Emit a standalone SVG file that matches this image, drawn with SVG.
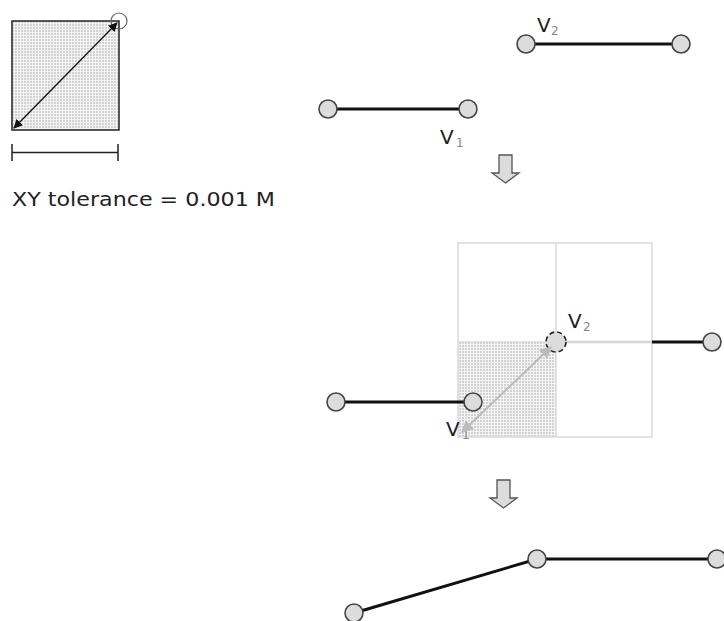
<svg xmlns="http://www.w3.org/2000/svg" width="724" height="621" viewBox="0 0 724 621">
<style>
.vtx{fill:#dcdcdc;stroke:#444;stroke-width:1.6}
.seg{stroke:#111;stroke-width:3;fill:none}
.grid{fill:none;stroke:#dadada;stroke-width:1.5}
.lbl{font-family:"DejaVu Sans",sans-serif;font-size:20px;fill:#222}
.sub{font-family:"DejaVu Sans",sans-serif;font-size:12px;fill:#888}
.darr{fill:#dcdcdc;stroke:#555;stroke-width:1.3}
</style>
<defs>
<pattern id="dots" width="3" height="3" patternUnits="userSpaceOnUse">
<rect width="3" height="3" fill="#f4f4f4"/>
<rect width="2" height="2" fill="#d2d2d2"/>
</pattern>
<marker id="ah" viewBox="0 0 10 10" refX="9" refY="5" markerWidth="7" markerHeight="7" orient="auto-start-reverse" markerUnits="strokeWidth">
<path d="M0,0 L10,5 L0,10 z" fill="#111"/>
</marker>
<marker id="ahg" viewBox="0 0 10 10" refX="9" refY="5" markerWidth="6" markerHeight="6" orient="auto-start-reverse" markerUnits="strokeWidth">
<path d="M0,0 L10,5 L0,10 z" fill="#bbb"/>
</marker>
<path id="downArrow" d="M0,0 h13 v18 h7 l-13.5,10 l-13.5,-10 h7 z" class="darr"/>
</defs>

<g id="tolerance">
<rect x="12" y="21" width="107" height="109" fill="url(#dots)" stroke="#222" stroke-width="1.5"/>
<circle cx="119" cy="21" r="8" fill="none" stroke="#666" stroke-width="1.2"/>
<line x1="14" y1="128" x2="117" y2="23" stroke="#111" stroke-width="1.3" marker-start="url(#ah)" marker-end="url(#ah)"/>
<path d="M12,144 v17 M12,152.5 H118 M118,144 v17" stroke="#222" stroke-width="1.5" fill="none"/>
<text x="12" y="206" class="lbl" font-size="19" textLength="263" lengthAdjust="spacingAndGlyphs">XY tolerance = 0.001 M</text>
</g>

<g id="step1">
<line x1="526" y1="44" x2="681" y2="44" class="seg"/>
<circle cx="526" cy="44" r="9" class="vtx"/>
<circle cx="681" cy="44" r="9" class="vtx"/>
<text x="537" y="32" class="lbl">V</text><text x="551" y="35" class="sub">2</text>
<line x1="328" y1="109" x2="468" y2="109" class="seg"/>
<circle cx="328" cy="109" r="9" class="vtx"/>
<circle cx="468" cy="109" r="9" class="vtx"/>
<text x="440" y="144" class="lbl">V</text><text x="456" y="147" class="sub">1</text>
</g>

<g id="arrow1"><use href="#downArrow" x="499" y="155"/></g>

<g id="step2">
<rect x="458" y="342" width="98" height="95" fill="url(#dots)"/>
<rect x="458" y="243" width="194" height="194" class="grid"/>
<line x1="556" y1="243" x2="556" y2="437" class="grid"/>
<line x1="458" y1="342" x2="652" y2="342" class="grid"/>
<line x1="556" y1="342" x2="652" y2="342" stroke="#d4d4d4" stroke-width="2.5"/>
<line x1="652" y1="342" x2="712" y2="342" class="seg"/>
<circle cx="712" cy="342" r="9" class="vtx"/>
<line x1="336" y1="402" x2="473" y2="402" class="seg"/>
<circle cx="336" cy="402" r="9" class="vtx"/>
<circle cx="473" cy="402" r="9" class="vtx"/>
<circle cx="556" cy="342" r="10" fill="#dcdcdc" stroke="#222" stroke-width="1.6" stroke-dasharray="5,3"/>
<text x="568" y="328" class="lbl">V</text><text x="583" y="331" class="sub">2</text>
<text x="446" y="436" class="lbl">V</text><text x="462" y="439" class="sub">1</text>
<line x1="462" y1="432" x2="551" y2="347" stroke="#bbb" stroke-width="2" marker-start="url(#ahg)" marker-end="url(#ahg)"/>
</g>

<g id="arrow2"><use href="#downArrow" x="497" y="480"/></g>

<g id="result">
<line x1="354" y1="613" x2="537" y2="559" class="seg"/>
<line x1="537" y1="559" x2="717" y2="559" class="seg"/>
<circle cx="354" cy="613" r="9" class="vtx"/>
<circle cx="537" cy="559" r="9" class="vtx"/>
<circle cx="717" cy="559" r="9" class="vtx"/>
</g>
</svg>
